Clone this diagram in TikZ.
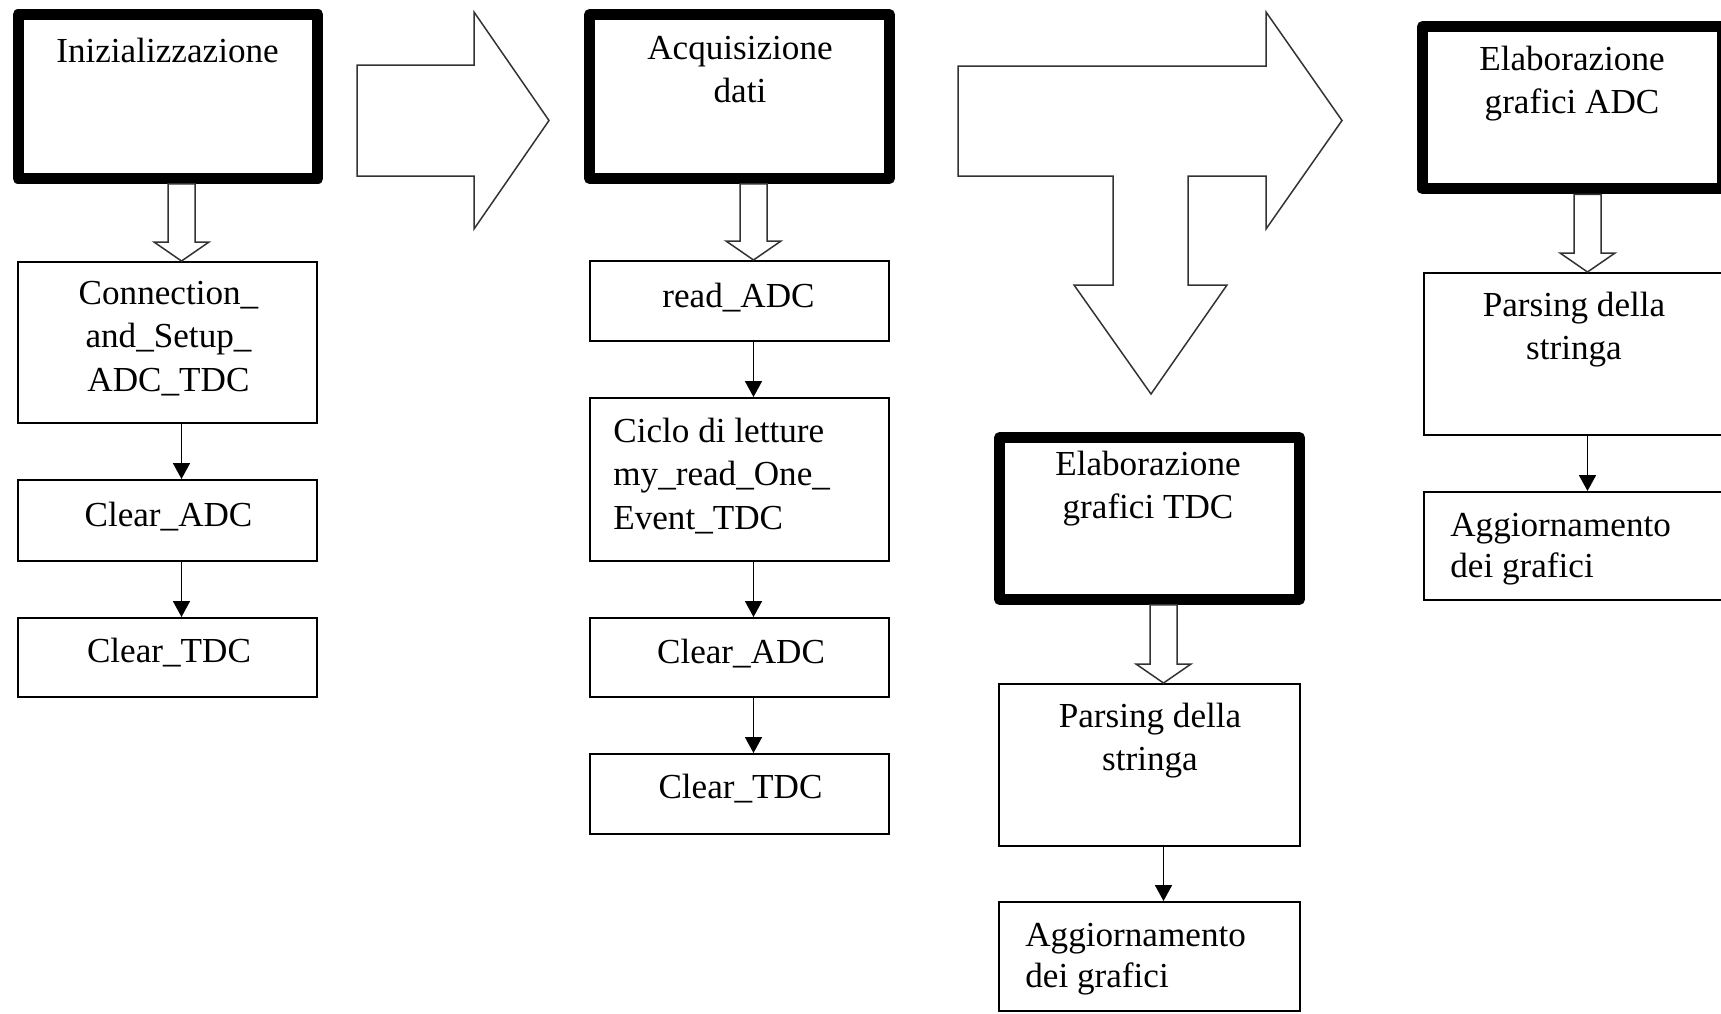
\documentclass[tikz,border=0pt]{standalone}
\usepackage{fontspec}
\setmainfont{Liberation Serif}
\usetikzlibrary{arrows.meta,calc}

% hollow down arrow from box #1 to box #2
\newcommand\fatdown[2]{%
  \path ($(#2.north)+(0.5,0)$) coordinate (fl) ($(#2.north)+(27.5,0)$) coordinate (fr);
  \draw[fatarrow] (fl |- #1.south) -- ($(fl)+(0,-19)$) -- ($(fl)+(-14,-19)$)
    -- ($(#2.north)+(14,0)$) -- ($(fr)+(14,-19)$) -- ($(fr)+(0,-19)$)
    -- (fr |- #1.south) -- cycle;}

\begin{document}
\begin{tikzpicture}[x=0.02cm,y=-0.02cm,
    thickbox/.style={draw,line width=0.22cm,line join=round,fill=white,inner sep=0,minimum width=6cm},
    thinbox/.style={draw,line width=0.04cm,fill=white,inner sep=0,minimum width=5.98cm},
    txt/.style={inner sep=0,anchor=north,align=center,font=\fontsize{20}{24.6}\selectfont},
    ltxt/.style={txt,anchor=north west,align=left},
    flow/.style={line width=0.036cm,-{Triangle[width=0.34cm,length=0.32cm]}},
    fatarrow/.style={draw=black!80,line width=0.03cm,fill=white,line join=miter},
    bigarrow/.style={draw=black!80,line width=0.03cm,fill=white}]
  \useasboundingbox (0,0) rectangle (1721,1014);

  % big arrows between the columns
  \draw[bigarrow] (357,65) -- (474,65) -- (474,12) -- (549,120.5) -- (474,229)
    -- (474,176) -- (357,176) -- cycle;
  \draw[bigarrow] (958,66) -- (1266,66) -- (1266,12) -- (1342,120.5) -- (1266,229)
    -- (1266,176) -- (1188,176) -- (1188,285) -- (1227,285) -- (1151,394)
    -- (1074,285) -- (1113,285) -- (1113,176) -- (958,176) -- cycle;

  % column 1
  \node[thickbox,minimum height=3.28cm] (init) at (168,96.5) {};
  \node[thinbox,minimum height=3.22cm] (conn) at (167.5,342.5) {};
  \node[thinbox,minimum height=1.62cm] (cadcA) at (167.5,520.5) {};
  \node[thinbox,minimum height=1.58cm] (ctdcA) at (167.5,657.5) {};
  \node[txt] (initT) at (167.5,38) {Inizializzazione};
  \node[txt] (connT) at (168.5,281) {Connection\_\\and\_Setup\_\\ADC\_TDC};
  \node[txt] (cadcAT) at (168.5,502) {Clear\_ADC};
  \node[txt] (ctdcAT) at (169,638) {Clear\_TDC};

  % column 2
  \node[thickbox,minimum height=3.28cm] (acq) at (739.5,96.5) {};
  \node[thinbox,minimum height=1.6cm] (rdadc) at (739.5,301) {};
  \node[thinbox,minimum height=3.26cm] (ciclo) at (739.5,479.5) {};
  \node[thinbox,minimum height=1.58cm] (cadcB) at (739.5,657.5) {};
  \node[thinbox,minimum height=1.6cm] (ctdcB) at (739.5,794) {};
  \node[txt] (acqT) at (740,36) {Acquisizione\\dati};
  \node[txt] (rdadcT) at (738.5,283) {read\_ADC};
  \node[ltxt] (cicloT) at (613,418) {Ciclo di letture\\my\_read\_One\_\\Event\_TDC};
  \node[txt] (cadcBT) at (741,639) {Clear\_ADC};
  \node[txt] (ctdcBT) at (740.5,774) {Clear\_TDC};

  % column 3 (TDC)
  \node[thickbox,minimum height=3.24cm] (eltdc) at (1149.5,518.5) {};
  \node[thinbox,minimum width=6.02cm,minimum height=3.24cm] (parsA) at (1149.5,765) {};
  \node[thinbox,minimum width=6.02cm,minimum height=2.18cm] (aggA) at (1149.5,956.5) {};
  \node[txt] (eltdcT) at (1148,451) {Elaborazione\\grafici TDC};
  \node[txt] (parsAT) at (1150,703) {Parsing della\\stringa};
  \node[ltxt,font=\fontsize{20}{23.5}\selectfont] (aggAT) at (1025,923) {Aggiornamento\\dei grafici};

  % column 4 (ADC)
  \node[thickbox,minimum height=3.25cm] (eladc) at (1572.5,107.75) {};
  \node[thinbox,minimum width=6cm,minimum height=3.24cm] (parsB) at (1573.5,354) {};
  \node[thinbox,minimum width=6cm,minimum height=2.16cm] (aggB) at (1573.5,546) {};
  \node[txt] (eladcT) at (1572,46) {Elaborazione\\grafici ADC};
  \node[txt] (parsBT) at (1574,292) {Parsing della\\stringa};
  \node[ltxt,font=\fontsize{20}{23.5}\selectfont] (aggBT) at (1450,513) {Aggiornamento\\dei grafici};

  % hollow arrows
  \fatdown{init}{conn}
  \fatdown{acq}{rdadc}
  \fatdown{eltdc}{parsA}
  \fatdown{eladc}{parsB}

  % thin arrows
  \draw[flow] ([xshift=0.28cm]conn.south) -- ([xshift=0.28cm]cadcA.north);
  \draw[flow] ([xshift=0.28cm]cadcA.south) -- ([xshift=0.28cm]ctdcA.north);
  \draw[flow] ([xshift=0.28cm]rdadc.south) -- ([xshift=0.28cm]ciclo.north);
  \draw[flow] ([xshift=0.28cm]ciclo.south) -- ([xshift=0.28cm]cadcB.north);
  \draw[flow] ([xshift=0.28cm]cadcB.south) -- ([xshift=0.28cm]ctdcB.north);
  \draw[flow] ([xshift=0.28cm]parsA.south) -- ([xshift=0.28cm]aggA.north);
  \draw[flow] ([xshift=0.28cm]parsB.south) -- ([xshift=0.28cm]aggB.north);
\end{tikzpicture}
\end{document}
